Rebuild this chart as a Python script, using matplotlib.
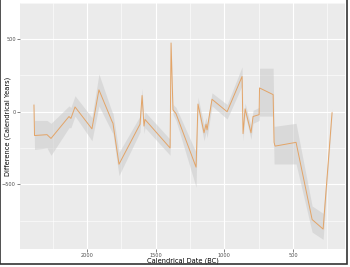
import matplotlib
matplotlib.use("Agg")
import matplotlib.pyplot as plt
from matplotlib.patches import Rectangle

# calendrical date (BC) and difference (calendrical years)
date_bc = [2386, 2382, 2291, 2262, 2131, 2117, 2087, 1964, 1913, 1818, 1811, 1767,
           1614, 1599, 1585, 1578, 1395, 1388, 1374, 1352, 1206, 1192, 1148, 1133,
           1126, 1090, 980, 871, 864, 849, 806, 791, 747, 744, 645, 638, 631, 478,
           361, 281, 216]
diff = [46, -164, -158, -184, -33, -46, 33, -118, 151, -66, -79, -362,
        -86, 112, -99, -53, -250, 474, 13, -13, -382, 53, -145, -86,
        -125, 86, 0, 243, -151, 20, -145, -33, -20, 164, 118, -211, -237, -211,
        -743, -809, -7]
lower = [-20, -260, -250, -300, -110, -110, -30, -200, 40, -140, -150, -440,
         -140, 60, -150, -110, -300, 450, -20, -60, -520, 10, -200, -140,
         -180, 40, -50, 180, -200, -20, -190, -80, -60, -30, -30, -360, -360, -360,
         -830, -880, -20]
upper = [80, -60, -60, -80, 40, 30, 110, -40, 260, 0, -10, -280,
         -30, 160, -50, 0, -190, 490, 50, 30, -280, 100, -90, -40,
         -80, 130, 50, 310, -100, 60, -100, 10, 30, 300, 300, -100, -100, -80,
         -650, -700, 20]

fig = plt.figure(figsize=(3.5, 2.67), dpi=100)
ax = fig.add_axes([0.057, 0.067, 0.929, 0.922])
ax.set_facecolor("#EBEBEB")

ax.fill_between(date_bc, lower, upper, color="#C8C8C8", alpha=0.5, linewidth=0)
ax.plot(date_bc, diff, color="#E3A467", linewidth=0.7)

ax.set_xlim(2488, 121)
ax.set_ylim(-947, 671)
ax.set_xticks([2000, 1500, 1000, 500])
ax.set_yticks([500, 0, -500])
ax.set_xticks([2250, 1750, 1250, 750, 250], minor=True)
ax.set_yticks([750, 250, -250, -750], minor=True)
ax.grid(True, which="major", color="white", linewidth=0.8)
ax.grid(True, which="minor", color="white", linewidth=0.4)
ax.set_axisbelow(True)
for s in ax.spines.values():
    s.set_visible(False)
ax.tick_params(which="major", labelsize=3.6, colors="#4D4D4D", length=2, width=0.5, pad=1)
ax.tick_params(which="minor", length=0)
ax.set_xlabel("Calendrical Date (BC)", fontsize=4.8)
ax.set_ylabel("Difference (Calendrical Years)", fontsize=4.8)
ax.xaxis.set_label_coords(0.5, -0.036)
ax.yaxis.set_label_coords(-0.029, 0.5)

# dark frame around the picture (top cut off)
fig.patches.append(Rectangle((0.0, 0.012), 0.992, 1.2, transform=fig.transFigure,
                             fill=False, edgecolor="#333333", linewidth=1.2))

fig.savefig("out.png", dpi=100)
